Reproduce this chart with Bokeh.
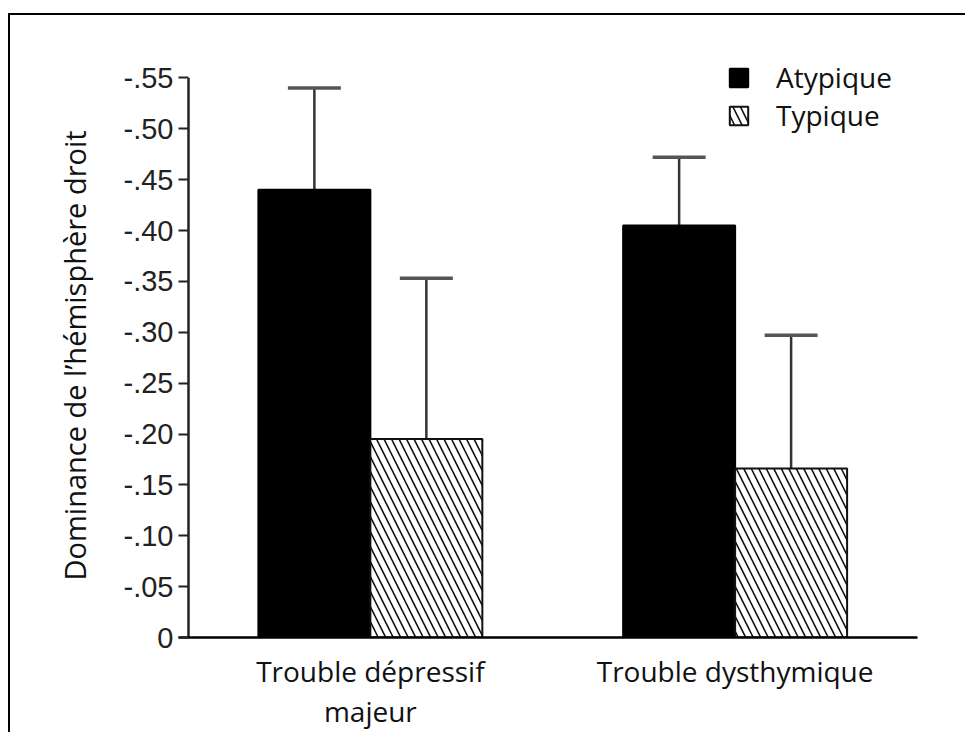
from bokeh.plotting import figure
from bokeh.models import (Range1d, FixedTicker, CustomJSTickFormatter, Whisker, TeeHead,
                          ColumnDataSource, Legend, LegendItem, LinearAxis, Title)
from bokeh.embed import file_html
from bokeh.resources import INLINE

# ---- data ----
groups = ["Trouble dépressif\nmajeur", "Trouble dysthymique"]
series = ["Atypique", "Typique"]
atypique_mean = [-0.440, -0.405]
atypique_se = [0.100, 0.067]
typique_mean = [-0.195, -0.166]
typique_se = [0.158, 0.131]
y_tick_values = [0, -0.05, -0.10, -0.15, -0.20, -0.25, -0.30, -0.35, -0.40, -0.45, -0.50, -0.55]
y_label = "Dominance de l’hémisphère droit"

# ---- layout / styling ----
group_pos = [1, 2]
bar_w = 0.307
offset = bar_w / 2
x_start, x_end = 0.474, 2.5
y_top = -0.575

p = figure(output_backend="svg", toolbar_location=None,
           frame_width=739, frame_height=585,
           min_border_left=168, min_border_right=48, min_border_top=37, min_border_bottom=0,
           x_range=Range1d(x_start, x_end), y_range=Range1d(0, y_top),
           background_fill_color="white", border_fill_color="white")
p.styles = {"border-top": "2px solid #000", "border-left": "2px solid #000",
            "margin-top": "13px", "margin-left": "8px"}
p.outline_line_color = None
p.xgrid.visible = False
p.ygrid.visible = False

src_a = ColumnDataSource(dict(x=[g - offset for g in group_pos], top=atypique_mean,
                              upper=[m - s for m, s in zip(atypique_mean, atypique_se)]))
src_t = ColumnDataSource(dict(x=[g + offset for g in group_pos], top=typique_mean,
                              upper=[m - s for m, s in zip(typique_mean, typique_se)]))

r_a = p.vbar(x="x", top="top", bottom=0, width=bar_w, source=src_a,
             fill_color="black", line_color="black", line_width=2)
r_t = p.vbar(x="x", top="top", bottom=0, width=bar_w, source=src_t,
             fill_color="white", line_color="#111", line_width=2,
             hatch_pattern="\\", hatch_color="#111", hatch_weight=1.6, hatch_scale=15)

for src in (src_a, src_t):
    w = Whisker(source=src, base="x", lower="top", upper="upper",
                line_color="#333", line_width=2.5,
                upper_head=TeeHead(size=53, line_color="#555", line_width=3.5),
                lower_head=None)
    p.add_layout(w)

# y axis
p.yaxis.ticker = FixedTicker(ticks=y_tick_values)
p.yaxis.formatter = CustomJSTickFormatter(code="""
    if (Math.abs(tick) < 1e-9) { return "0"; }
    return "-" + Math.abs(tick).toFixed(2).substring(1);
""")
p.yaxis.axis_line_color = None
p.yaxis.major_tick_in = 10
p.yaxis.major_tick_out = 0
p.yaxis.major_tick_line_color = "#222"
p.yaxis.major_tick_line_width = 2
p.yaxis.minor_tick_line_color = None
p.yaxis.major_label_standoff = 5
p.yaxis.major_label_text_font = "Liberation Sans"
p.yaxis.major_label_text_font_size = "29px"
p.yaxis.major_label_text_color = "#222"

# y axis title (as a side title, anchored from the bottom of the frame)
p.add_layout(Title(text=y_label, align="left", offset=57, standoff=53,
                   text_font="Open Sans", text_font_size="29px",
                   text_font_style="normal", text_color="#111"), "left")

# y axis line drawn a few pixels inside the frame (the x axis extends left of it)
axis_x = x_start + 10 / 364.8
p.segment(x0=[axis_x], y0=[y_tick_values[0]], x1=[axis_x], y1=[y_tick_values[-1]],
          line_color="#222", line_width=2.5)

# x axis: first line of each category label
line1 = [g.split("\n")[0] for g in groups]
line2 = [g.split("\n")[1] if "\n" in g else "" for g in groups]

p.xaxis.ticker = FixedTicker(ticks=group_pos)
p.xaxis.major_label_overrides = {g: lab for g, lab in zip(group_pos, line1)}
p.xaxis.axis_line_color = "black"
p.xaxis.axis_line_width = 2.5
p.xaxis.major_tick_line_color = None
p.xaxis.minor_tick_line_color = None
p.xaxis.major_label_standoff = 8
p.xaxis.major_label_text_font = "Open Sans"
p.xaxis.major_label_text_font_size = "28px"
p.xaxis.major_label_text_color = "#111"

# second line of the category labels, centred under the first
pos2 = [g for g, lab in zip(group_pos, line2) if lab]
ax2 = LinearAxis(ticker=FixedTicker(ticks=pos2),
                 major_label_overrides={g: lab for g, lab in zip(group_pos, line2) if lab},
                 axis_line_color=None, major_tick_line_color=None, minor_tick_line_color=None,
                 major_label_standoff=-7, major_label_text_font="Open Sans",
                 major_label_text_font_size="28px", major_label_text_color="#111")
p.add_layout(ax2, "below")

legend = Legend(items=[LegendItem(label=series[0], renderers=[r_a]),
                       LegendItem(label=series[1], renderers=[r_t])],
                location=(549, 503), glyph_width=23, glyph_height=23,
                label_text_font="Open Sans", label_text_font_size="28px",
                label_text_color="#111", label_standoff=26, spacing=0,
                padding=0, margin=0, border_line_color=None,
                background_fill_alpha=0)
p.add_layout(legend)

open("out.html", "w").write(file_html(p, INLINE))
